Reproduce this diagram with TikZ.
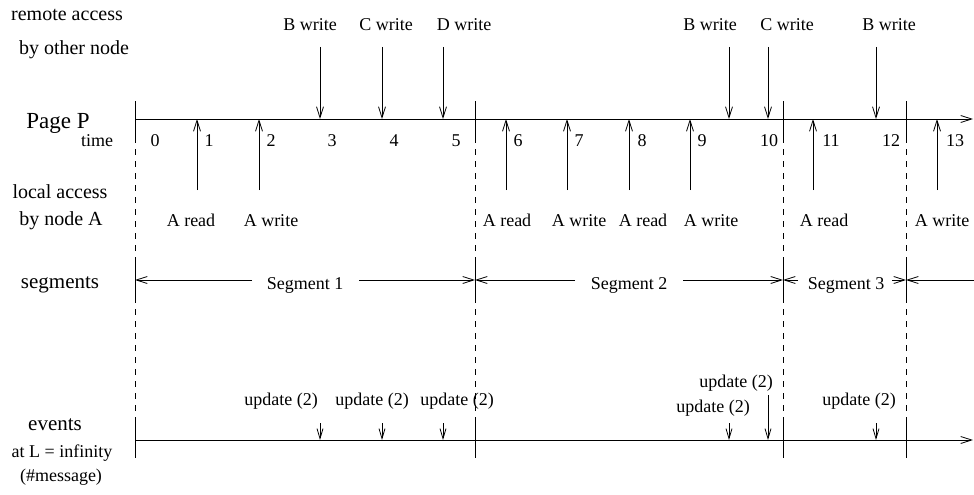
\documentclass[tikz,border=0pt]{standalone}
\usepackage{fontspec}
\setmainfont{Liberation Serif}
\usetikzlibrary{arrows.meta}
\begin{document}
\begin{tikzpicture}[x=1pt,y=-1pt,line width=1pt,
  tip/.style={-{Straight Barb[length=11pt,width=7pt,line width=0.8pt]}},
  smalltip/.style={-{Straight Barb[length=10pt,width=6pt,line width=0.8pt]}},
  txt/.style={anchor=base,inner sep=0pt,font=\fontsize{18}{20}\selectfont},
  side/.style={anchor=base,inner sep=0pt,font=\fontsize{20}{22}\selectfont},
  bigside/.style={anchor=base,inner sep=0pt,font=\fontsize{21}{23}\selectfont},
  divider/.style={dash pattern=on 6pt off 6pt,line width=0.8pt}]
\useasboundingbox (0,0) rectangle (974,495);

% row captions on the left
\node[side] (capRa) at (67,21) {remote access};
\node[side] (capRb) at (74,55) {by other node};
\node[anchor=base,inner sep=0pt,font=\fontsize{23}{25}\selectfont] (capP) at (58,128) {Page P};
\node[txt] (capT) at (97,146) {time};
\node[side] (capLa) at (60,198) {local access};
\node[side] (capLb) at (61,225) {by node A};
\node[bigside] (capS) at (60,288) {segments};
\node[bigside] (capE) at (55,430) {events};
\node[txt] (capEa) at (62,457) {at L = infinity};
\node[txt] (capEb) at (61,481) {(\#message)};

% time axis of page P
\coordinate (pStart) at (135,119);
\coordinate (pEnd) at (973,119);
\draw[tip] (pStart) -- (pEnd);

% segment boundaries: ticks, dashed dividers, ticks on the event axis
\foreach \n/\x in {0/135,1/475,2/783,3/906}{
  \coordinate (bt\n) at (\x,101);
  \coordinate (bb\n) at (\x,137);
  \coordinate (st\n) at (\x,262);
  \coordinate (sm\n) at (\x,280);
  \coordinate (sb\n) at (\x,297);
  \coordinate (et\n) at (\x,422);
  \coordinate (eb\n) at (\x,458);
  \draw (bt\n) -- (bb\n);
  \draw[divider] (bb\n) -- (st\n);
  \draw (st\n) -- (sb\n);
  \draw[divider] (sb\n) -- (et\n);
  \draw (et\n) -- (eb\n);
}

% time stamps
\foreach \k/\x in {0/155,1/209,2/271,3/332,4/394,5/456,6/518,7/579,8/642,9/702,10/769,11/831,12/891,13/955}{
  \node[txt] (ts\k) at (\x,146) {\k};
}

% remote accesses by other nodes
\foreach \n/\x/\lx/\who in {1/320/310/B,2/382/386/C,3/443/464/D,4/729/710/B,5/768/787/C,6/876/889/B}{
  \node[txt] (rl\n) at (\lx,31) {\who{} write};
  \coordinate (rs\n) at (\x,47);
  \coordinate (re\n) at (\x,119);
  \draw[tip] (rs\n) -- (re\n);
}

% local accesses by node A
\foreach \n/\x/\lx/\op in {1/197/191/read,2/259/271/write,3/506/507/read,4/567/579/write,5/629/643/read,6/690/711/write,7/813/824/read,8/937/942/write}{
  \coordinate (ls\n) at (\x,190);
  \coordinate (le\n) at (\x,119);
  \draw[tip] (ls\n) -- (le\n);
  \node[txt] (ll\n) at (\lx,226) {A \op};
}

% segments
\node[txt] (seg1) at (305,289) {Segment 1};
\node[txt] (seg2) at (629,289) {Segment 2};
\node[txt] (seg3) at (846,289) {Segment 3};
\coordinate (g1a) at (252,280); \coordinate (g1b) at (359,280);
\coordinate (g2a) at (575,280); \coordinate (g2b) at (683,280);
\coordinate (g3a) at (798,280); \coordinate (g3b) at (892,280);
\coordinate (gEnd) at (974,280);
\draw[tip] (g1a) -- (sm0);
\draw[tip] (g1b) -- (sm1);
\draw[tip] (g2a) -- (sm1);
\draw[tip] (g2b) -- (sm2);
\draw[tip] (g3a) -- (sm2);
\draw[tip] (g3b) -- (sm3);
\draw[tip] (gEnd) -- (sm3);

% event axis
\coordinate (eStart) at (135,440);
\coordinate (eEnd) at (973,440);
\draw[tip] (eStart) -- (eEnd);

% update messages
\foreach \n/\x/\top in {1/320/423,2/382/423,3/443/423,4/729/423,5/768/395,6/876/423}{
  \coordinate (us\n) at (\x,\top);
  \coordinate (ue\n) at (\x,440);
  \draw[smalltip] (us\n) -- (ue\n);
}
\node[txt] (ul1) at (281,405) {update (2)};
\node[txt] (ul2) at (372,405) {update (2)};
\node[txt] (ul3) at (457,405) {update (2)};
\node[txt] (ul4) at (736,387) {update (2)};
\node[txt] (ul5) at (713,412) {update (2)};
\node[txt] (ul6) at (859,405) {update (2)};
\end{tikzpicture}
\end{document}
